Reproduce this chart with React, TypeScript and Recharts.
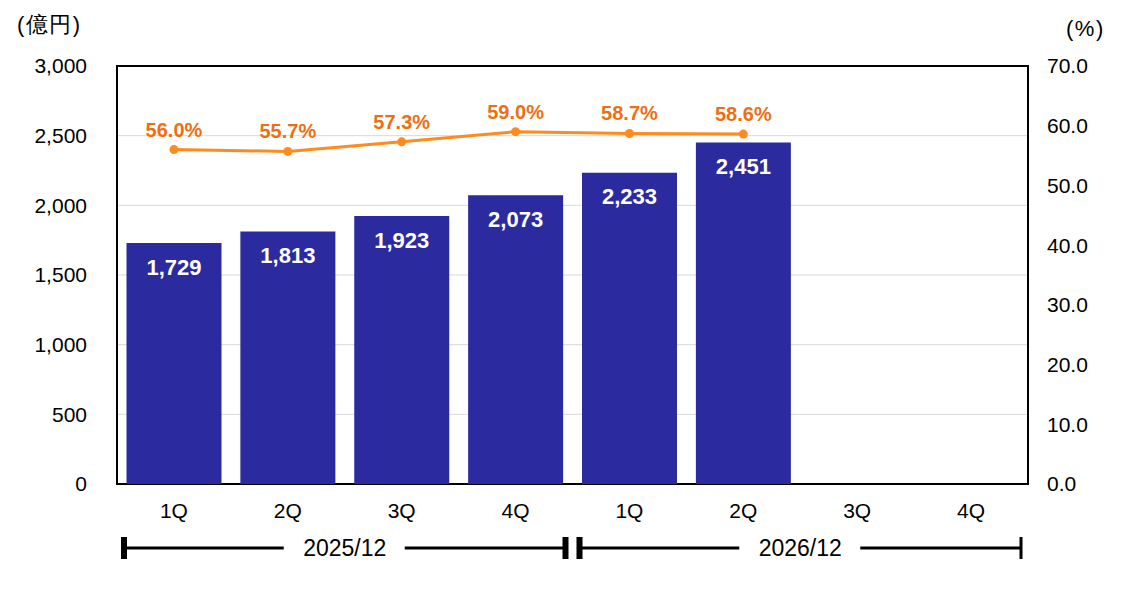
import React from "react";
import {
  ComposedChart,
  Bar,
  Line,
  XAxis,
  YAxis,
  CartesianGrid,
  LabelList,
  usePlotArea,
} from "recharts";

const fiscalYears = ["2025/12", "2026/12"];
const quarters = ["1Q", "2Q", "3Q", "4Q"];
const revenue = [1729, 1813, 1923, 2073, 2233, 2451, null, null];
const ratio = [56.0, 55.7, 57.3, 59.0, 58.7, 58.6, null, null];
const leftTicks = [0, 500, 1000, 1500, 2000, 2500, 3000];
const rightTicks = [0, 10, 20, 30, 40, 50, 60, 70];

const data = fiscalYears.flatMap((fy, i) =>
  quarters.map((q, j) => ({
    key: `${fy}-${q}`,
    quarter: q,
    revenue: revenue[i * 4 + j],
    ratio: ratio[i * 4 + j],
  }))
);

const FONT = "'Liberation Sans', Arial, sans-serif";
const BAR = "#2b2a9e";
const LINE = "#ff8a1e";
const LINE_LABEL = "#ee6f12";

const PlotFrame = () => {
  const plot = usePlotArea();
  if (!plot) return null;
  return (
    <rect
      x={plot.x}
      y={plot.y}
      width={plot.width}
      height={plot.height}
      fill="none"
      stroke="#000"
      strokeWidth={2}
    />
  );
};

const YearBrackets = () => {
  const plot = usePlotArea();
  if (!plot) return null;
  const groupW = plot.width / fiscalYears.length;
  const y = plot.y + plot.height + 64;
  return (
    <g>
      {fiscalYears.map((fy, i) => {
        const x0 = plot.x + i * groupW + 7;
        const x1 = plot.x + (i + 1) * groupW - 7;
        const cx = plot.x + i * groupW + groupW / 2;
        const last = i === fiscalYears.length - 1;
        return (
          <g key={fy}>
            <rect x={x0 - 3} y={y - 11} width={6} height={22} fill="#000" />
            <rect
              x={x1 - (last ? 1.5 : 3)}
              y={y - 11}
              width={last ? 3 : 6}
              height={22}
              fill="#000"
            />
            <line x1={x0} x2={cx - 61} y1={y} y2={y} stroke="#000" strokeWidth={3} />
            <line x1={cx + 60} x2={x1} y1={y} y2={y} stroke="#000" strokeWidth={3} />
            <text
              x={cx}
              y={y + 8}
              textAnchor="middle"
              fontSize={23}
              fontFamily={FONT}
              fill="#000"
            >
              {fy}
            </text>
          </g>
        );
      })}
    </g>
  );
};

export default function App() {
  return (
    <div style={{ position: "absolute", left: 0, top: 0 }}>
      <ComposedChart
        width={1132}
        height={590}
        data={data}
        margin={{ top: 66, right: 0, bottom: 0, left: 0 }}
        barCategoryGap={9.5}
      >
        <CartesianGrid vertical={false} stroke="#d9d9d9" yAxisId="left" />
        <XAxis
          dataKey="key"
          tickFormatter={(v: string) => v.split("-")[1]}
          axisLine={false}
          tickLine={false}
          tickSize={0}
          tickMargin={19}
          height={106}
          interval={0}
          tick={{ fontSize: 21, fill: "#000", fontFamily: FONT }}
        />
        <YAxis
          yAxisId="left"
          domain={[0, 3000]}
          ticks={leftTicks}
          tickFormatter={(v: number) => v.toLocaleString("en-US")}
          axisLine={false}
          tickLine={false}
          tickSize={0}
          tickMargin={30}
          width={117}
          tick={{ fontSize: 21, fill: "#000", fontFamily: FONT }}
        />
        <YAxis
          yAxisId="right"
          orientation="right"
          domain={[0, 70]}
          ticks={rightTicks}
          tickFormatter={(v: number) => v.toFixed(1)}
          axisLine={false}
          tickLine={false}
          tickSize={0}
          tickMargin={19}
          width={104}
          tick={{ fontSize: 21, fill: "#000", fontFamily: FONT, textAnchor: "start" }}
        />
        <Bar yAxisId="left" dataKey="revenue" fill={BAR} isAnimationActive={false}>
          <LabelList
            dataKey="revenue"
            position="insideTop"
            offset={16}
            formatter={(v: any) => (v == null ? "" : Number(v).toLocaleString("en-US"))}
            fill="#fff"
            fontSize={22}
            fontWeight="bold"
            fontFamily={FONT}
          />
        </Bar>
        <Line
          yAxisId="right"
          dataKey="ratio"
          stroke={LINE}
          strokeWidth={3}
          dot={{ r: 4.5, fill: LINE, stroke: LINE, strokeWidth: 0 }}
          activeDot={false}
          isAnimationActive={false}
        >
          <LabelList
            dataKey="ratio"
            position="top"
            offset={13}
            formatter={(v: any) => (v == null ? "" : `${Number(v).toFixed(1)}%`)}
            fill={LINE_LABEL}
            fontSize={20}
            fontWeight="bold"
            fontFamily={FONT}
          />
        </Line>
        <PlotFrame />
        <YearBrackets />
        <text x={17} y={32} fontSize={22} fontFamily={FONT} fill="#000" letterSpacing={1.5}>
          (億円)
        </text>
        <text x={1066} y={36} fontSize={22} fontFamily={FONT} fill="#000" letterSpacing={1.5}>
          (%)
        </text>
      </ComposedChart>
    </div>
  );
}
